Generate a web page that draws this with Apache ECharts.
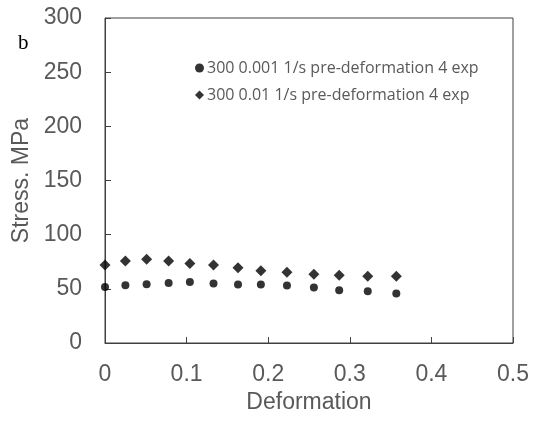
<!DOCTYPE html>
<html>
<head>
<meta charset="utf-8">
<script src="https://cdn.jsdelivr.net/npm/echarts@6/dist/echarts.min.js"></script>
<style>
  html, body { margin: 0; padding: 0; background: #ffffff; }
  #chart { width: 540px; height: 423px; }
</style>
</head>
<body>
<div id="chart"></div>
<script>
// Deformation values (shared by both strain-rate series)
const deformation = [0, 0.025, 0.051, 0.078, 0.104, 0.133, 0.163, 0.191, 0.223, 0.256, 0.287, 0.322, 0.357];
// Stress (MPa) at 300, 0.001 1/s
const stressSlow = [51.8, 53.4, 54.3, 55.5, 56.4, 54.9, 54.0, 54.0, 53.1, 51.2, 48.7, 47.8, 45.7];
// Stress (MPa) at 300, 0.01 1/s
const stressFast = [71.9, 75.8, 77.4, 75.8, 73.4, 71.9, 69.4, 66.6, 65.2, 63.5, 62.6, 61.7, 61.7];

const seriesNames = ['300 0.001 1/s pre-deformation 4 exp', '300 0.01 1/s pre-deformation 4 exp'];
const xTicks = { min: 0, max: 0.5, interval: 0.1 };
const yTicks = { min: 0, max: 300, interval: 50 };

const pairs = (xs, ys) => xs.map((x, i) => [x, ys[i]]);

const axisGrey = '#595959';
const lineColor = '#404040';
const labelFont = { color: axisGrey, fontSize: 23, fontFamily: 'Liberation Sans, Arial, sans-serif' };

const chart = echarts.init(document.getElementById('chart'), null, { renderer: 'canvas' });
chart.setOption({
  backgroundColor: '#ffffff',
  animation: false,
  grid: { left: 105, right: 27, top: 18, bottom: 80, show: true, borderColor: lineColor, borderWidth: 1 },
  graphic: [{
    type: 'text', left: 18, top: 33,
    style: { text: 'b', fontSize: 21, fontFamily: 'Liberation Serif, Times New Roman, serif', fill: '#000000' }
  }],
  legend: {
    orient: 'vertical', left: 190, top: 54,
    itemWidth: 9, itemHeight: 9, itemGap: 9,
    textStyle: { color: axisGrey, fontSize: 16, lineHeight: 18, fontFamily: 'Open Sans, sans-serif', padding: [0, 0, 0, -2] },
    data: seriesNames
  },
  xAxis: {
    type: 'value', min: xTicks.min, max: xTicks.max, interval: xTicks.interval,
    name: 'Deformation', nameLocation: 'middle', nameGap: 38,
    nameTextStyle: labelFont,
    axisLine: { show: true, lineStyle: { color: lineColor, width: 1 } },
    axisTick: { show: true, inside: true, length: 6, lineStyle: { color: lineColor } },
    axisLabel: Object.assign({ margin: 20 }, labelFont),
    splitLine: { show: false }
  },
  yAxis: {
    type: 'value', min: yTicks.min, max: yTicks.max, interval: yTicks.interval,
    name: 'Stress. MPa', nameLocation: 'middle', nameGap: 70, nameRotate: 90,
    nameTextStyle: labelFont,
    axisLine: { show: true, lineStyle: { color: lineColor, width: 1 } },
    axisTick: { show: true, inside: true, length: 6, lineStyle: { color: lineColor } },
    axisLabel: Object.assign({ margin: 23 }, labelFont),
    splitLine: { show: false }
  },
  series: [
    {
      name: seriesNames[0], type: 'scatter', symbol: 'circle', symbolSize: 8,
      itemStyle: { color: '#000000' },
      data: pairs(deformation, stressSlow)
    },
    {
      name: seriesNames[1], type: 'scatter', symbol: 'diamond', symbolSize: 11,
      itemStyle: { color: '#000000' },
      data: pairs(deformation, stressFast)
    }
  ]
});
</script>
</body>
</html>
